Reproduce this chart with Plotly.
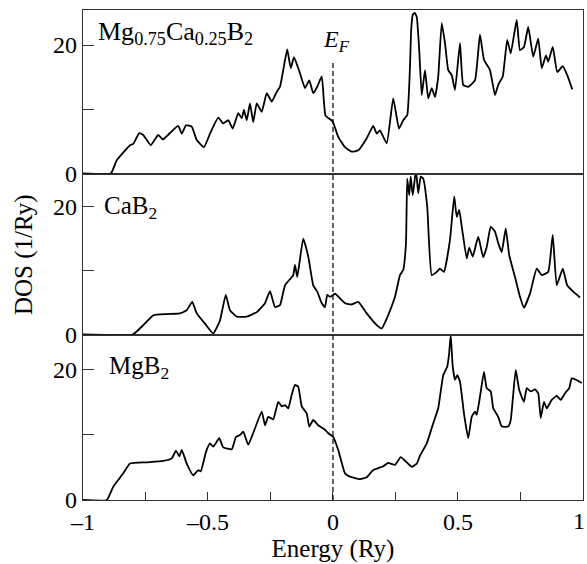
import plotly.graph_objects as go

# ---------------- data ----------------
energy_mix = [-1.0, -0.889, -0.865, -0.812, -0.799, -0.775, -0.759, -0.729, -0.699, -0.681,
              -0.652, -0.619, -0.605, -0.588, -0.565, -0.545, -0.516, -0.492, -0.459, -0.439,
              -0.419, -0.401, -0.379, -0.365, -0.356, -0.345, -0.332, -0.319, -0.305, -0.285,
              -0.265, -0.245, -0.225, -0.212, -0.199, -0.183, -0.169, -0.156, -0.132, -0.112,
              -0.095, -0.079, -0.063, -0.045, -0.030, -0.010, 0.0, 0.021, 0.048, 0.075,
              0.101, 0.135, 0.161, 0.175, 0.188, 0.215, 0.241, 0.264, 0.281, 0.297,
              0.308, 0.313, 0.319, 0.327, 0.335, 0.345, 0.355, 0.368, 0.381, 0.395,
              0.408, 0.421, 0.435, 0.448, 0.461, 0.475, 0.488, 0.508, 0.521, 0.541,
              0.568, 0.588, 0.604, 0.628, 0.648, 0.661, 0.679, 0.697, 0.711, 0.735,
              0.748, 0.764, 0.781, 0.801, 0.821, 0.835, 0.852, 0.861, 0.879, 0.897,
              0.919, 0.937, 0.957]
dos_mix = [0, 0, 2.07, 4.4, 4.6, 6.3, 6.0, 4.4, 6.0, 5.3,
           6.3, 7.4, 6.2, 7.5, 7.3, 5.2, 4.1, 6.2, 8.7, 7.8,
           8.3, 7.0, 9.4, 8.6, 9.9, 8.3, 10.9, 8.0, 10.9, 9.6,
           12.5, 11.2, 12.7, 13.5, 16.1, 19.3, 16.4, 18.1, 15.6, 13.3,
           14.5, 12.5, 13.5, 15.1, 9.0, 8.4, 8.0, 5.7, 4.1, 3.4,
           3.6, 5.5, 7.4, 6.2, 6.7, 4.7, 11.7, 7.0, 8.3, 9.1,
           16.6, 22.5, 24.7, 25.0, 24.4, 19.2, 12.2, 16.1, 11.7, 13.3,
           11.9, 15.1, 23.4, 20.3, 16.1, 15.3, 13.0, 20.3, 13.8, 13.5,
           14.5, 21.6, 17.7, 16.1, 12.2, 13.8, 15.1, 20.8, 18.7, 23.9,
           19.2, 19.7, 22.8, 18.2, 21.0, 16.4, 18.4, 17.4, 19.7, 15.8,
           16.7, 15.3, 13.1]

energy_cab2 = [-1.0, -0.801, -0.759, -0.719, -0.665, -0.612, -0.585, -0.563, -0.545, -0.512,
               -0.479, -0.452, -0.429, -0.412, -0.385, -0.345, -0.305, -0.272, -0.252, -0.232,
               -0.212, -0.192, -0.159, -0.152, -0.143, -0.119, -0.099, -0.079, -0.063, -0.045,
               -0.032, -0.023, -0.012, 0.001, 0.008, 0.048, 0.075, 0.101, 0.135, 0.175,
               0.195, 0.215, 0.248, 0.268, 0.281, 0.292, 0.297, 0.305, 0.311, 0.319,
               0.332, 0.341, 0.351, 0.361, 0.377, 0.395, 0.415, 0.428, 0.444, 0.468,
               0.485, 0.495, 0.505, 0.515, 0.535, 0.545, 0.559, 0.581, 0.601, 0.615,
               0.631, 0.648, 0.661, 0.675, 0.691, 0.705, 0.728, 0.748, 0.764, 0.788,
               0.815, 0.835, 0.861, 0.879, 0.895, 0.919, 0.937, 0.961, 0.988]
dos_cab2 = [0, 0, 1.46, 3.0, 3.2, 3.3, 3.8, 5.1, 3.3, 1.7,
            0.16, 2.2, 6.2, 3.8, 2.8, 2.8, 3.5, 4.9, 6.8, 4.3,
            4.6, 7.7, 9.3, 10.9, 9.0, 15.0, 12.2, 7.7, 6.7, 4.9,
            4.3, 6.2, 5.9, 6.2, 6.4, 4.9, 4.7, 5.1, 3.3, 1.46,
            0.94, 2.5, 5.9, 9.3, 10.1, 14.3, 24.4, 21.8, 24.7, 21.8,
            25.7, 22.1, 24.7, 24.4, 20.0, 9.3, 9.8, 10.3, 9.8, 14.8,
            21.6, 18.4, 19.5, 16.9, 11.9, 13.6, 12.2, 15.3, 12.1, 13.7,
            16.9, 16.1, 14.3, 12.9, 16.6, 12.4, 9.0, 5.9, 4.2, 6.4,
            10.3, 9.3, 9.8, 15.6, 7.7, 10.3, 7.7, 6.7, 5.8]

energy_mgb2 = [-1.0, -0.905, -0.879, -0.839, -0.812, -0.745, -0.679, -0.645, -0.628, -0.615,
               -0.605, -0.585, -0.559, -0.539, -0.529, -0.508, -0.492, -0.479, -0.455, -0.439,
               -0.405, -0.388, -0.372, -0.359, -0.339, -0.319, -0.285, -0.272, -0.259, -0.239,
               -0.219, -0.205, -0.192, -0.179, -0.165, -0.152, -0.139, -0.125, -0.105, -0.095,
               -0.079, -0.059, -0.032, -0.020, 0.001, 0.021, 0.048, 0.068, 0.108, 0.135,
               0.161, 0.201, 0.221, 0.248, 0.271, 0.292, 0.315, 0.335, 0.348, 0.375,
               0.401, 0.421, 0.441, 0.457, 0.464, 0.471, 0.479, 0.488, 0.497, 0.508,
               0.524, 0.541, 0.555, 0.568, 0.575, 0.588, 0.604, 0.615, 0.631, 0.641,
               0.661, 0.675, 0.701, 0.711, 0.731, 0.745, 0.764, 0.775, 0.791, 0.808,
               0.821, 0.831, 0.844, 0.855, 0.875, 0.895, 0.911, 0.928, 0.945, 0.955,
               0.972, 0.995]
dos_mgb2 = [0, 0, 2.05, 4.1, 5.6, 5.8, 6.0, 6.4, 7.6, 6.7,
            7.7, 5.6, 3.8, 4.6, 4.4, 7.4, 8.7, 8.2, 9.5, 8.1,
            7.8, 9.7, 10.0, 10.5, 8.5, 10.3, 13.6, 11.5, 12.8, 12.4,
            15.1, 14.4, 14.6, 14.1, 16.2, 17.7, 17.4, 14.4, 13.3, 11.3,
            12.3, 11.5, 10.8, 10.3, 9.7, 7.7, 4.1, 3.6, 3.2, 3.5,
            4.6, 5.2, 5.7, 5.4, 6.6, 5.9, 5.1, 5.6, 6.8, 8.7,
            11.8, 14.1, 19.2, 20.5, 22.3, 25.4, 20.5, 18.5, 19.2, 18.2,
            13.3, 9.5, 12.8, 13.6, 13.1, 15.9, 19.7, 17.2, 16.7, 14.1,
            12.8, 11.3, 11.3, 12.3, 20.0, 16.9, 15.1, 17.2, 16.7, 17.0,
            16.4, 12.6, 15.1, 14.1, 15.4, 16.0, 15.4, 16.4, 17.2, 18.7,
            18.5, 18.0]

x_tickvals = [-1, -0.75, -0.5, -0.25, 0, 0.25, 0.5, 0.75, 1]
x_ticktext = ["\u20131", "", "\u20130.5", "", "0", "", "0.5", "", ""]
x_last_label = "1"
y_tickvals = [0, 10, 20]
y_ticktext = ["0", "", "20"]

# ---------------- figure ----------------
FONT = "Liberation Serif"
AX = "#333333"
fig = go.Figure()

line = dict(color="black", width=1.8, shape="spline", smoothing=0.4)
fig.add_trace(go.Scatter(x=energy_mgb2, y=dos_mgb2, mode="lines", line=line,
                         xaxis="x", yaxis="y", showlegend=False))
fig.add_trace(go.Scatter(x=energy_cab2, y=dos_cab2, mode="lines", line=line,
                         xaxis="x2", yaxis="y2", showlegend=False))
fig.add_trace(go.Scatter(x=energy_mix, y=dos_mix, mode="lines", line=line,
                         xaxis="x3", yaxis="y3", showlegend=False))

H = 490.0
d_bot = [0, (500 - 334.5) / H]
d_mid = [(500 - 334.5) / H, (500 - 173.5) / H]
d_top = [(500 - 173.5) / H, 1]

def xax(anchor, show):
    return dict(domain=[0, 1], anchor=anchor, range=[-1.0, 1.0001], showgrid=False, zeroline=False,
                showline=True, mirror=True, linecolor=AX, linewidth=1.3,
                tickmode="array", tickvals=x_tickvals, ticktext=x_ticktext,
                ticks="inside" if show else "", ticklen=8, tickcolor=AX, tickwidth=1.2,
                automargin=False,
                showticklabels=show, tickfont=dict(family=FONT, size=24, color="black"))

def yax(anchor, dom, rng):
    return dict(domain=dom, anchor=anchor, range=rng, showgrid=False, zeroline=False,
                showline=True, mirror=True, linecolor=AX, linewidth=1.3,
                tickmode="array", tickvals=y_tickvals, ticktext=y_ticktext,
                ticks="inside", ticklen=11, tickcolor=AX, tickwidth=1.2, automargin=False,
                tickfont=dict(family=FONT, size=24, color="black"))

fig.update_layout(
    width=587, height=564,
    margin=dict(l=83, r=4, t=10, b=64),
    paper_bgcolor="white", plot_bgcolor="white",
    font=dict(family=FONT, color="black"),
    xaxis=dict(**xax("y", True), title=dict(text="Energy (Ry)", font=dict(family=FONT, size=25), standoff=0)),
    xaxis2=xax("y2", False),
    xaxis3=xax("y3", False),
    yaxis=yax("x", d_bot, [0, 25.45]),
    yaxis2=yax("x2", d_mid, [0, 25.2]),
    yaxis3=yax("x3", d_top, [0, 25.45]),
)

# last x tick label, kept inside the page edge
fig.add_annotation(x=1, y=0, xref="x", yref="paper", text=x_last_label, showarrow=False,
                   xanchor="right", yanchor="top", xshift=4, yshift=-6,
                   font=dict(family=FONT, size=24, color="black"))

fig.add_annotation(x=0.0, y=0.5, xref="paper", yref="paper", text="DOS (1/Ry)",
                   textangle=-90, showarrow=False, xanchor="center", yanchor="middle",
                   xshift=-59, font=dict(family=FONT, size=25, color="black"))

fig.add_shape(type="line", xref="x", yref="paper", x0=0, x1=0, y0=0, y1=(500 - 60) / H,
              line=dict(color="black", width=1.2, dash="5px,3px"))

fig.add_annotation(x=(96 - 83) / 500, y=(500 - 33) / H, xref="paper", yref="paper",
                   text="Mg<sub>0.75</sub>Ca<sub>0.25</sub>B<sub>2</sub>", showarrow=False,
                   xanchor="left", yanchor="middle", font=dict(family=FONT, size=26, color="black"))
fig.add_annotation(x=(321 - 83) / 500, y=(500 - 41) / H, xref="paper", yref="paper",
                   text="<i>E</i><sub><i>F</i></sub>", showarrow=False,
                   xanchor="left", yanchor="middle", font=dict(family=FONT, size=24, color="black"))
fig.add_annotation(x=(102 - 83) / 500, y=(500 - 207) / H, xref="paper", yref="paper",
                   text="CaB<sub>2</sub>", showarrow=False,
                   xanchor="left", yanchor="middle", font=dict(family=FONT, size=25, color="black"))
fig.add_annotation(x=(107 - 83) / 500, y=(500 - 367) / H, xref="paper", yref="paper",
                   text="MgB<sub>2</sub>", showarrow=False,
                   xanchor="left", yanchor="middle", font=dict(family=FONT, size=25, color="black"))

fig.write_html("out.html", config={"displayModeBar": False},
               post_script="document.body.style.margin='0';document.body.style.overflow='hidden';")
